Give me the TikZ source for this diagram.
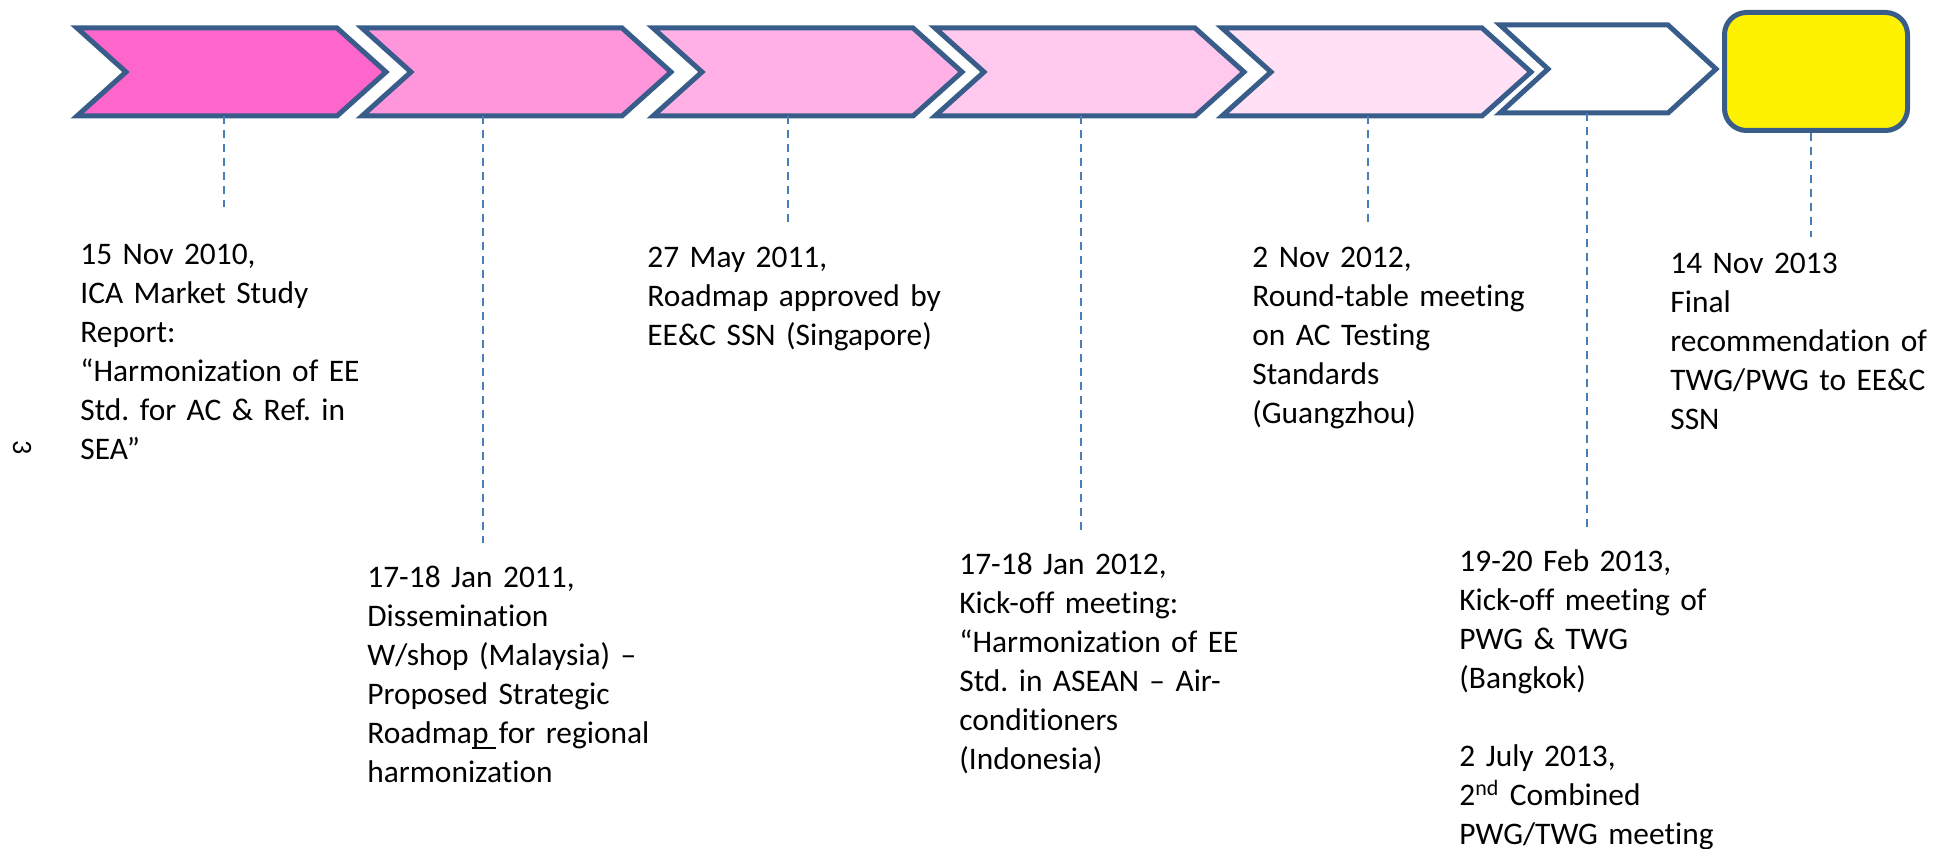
\documentclass[tikz,border=0pt]{standalone}
\usepackage{fontspec}
\setmainfont{Carlito}[Ligatures={TeX,NoCommon}]
\usepackage{tikz}
\usetikzlibrary{positioning}
\usepackage{xcolor}
\frenchspacing

\definecolor{edgeblue}{HTML}{385D8A}
\definecolor{tickblue}{HTML}{4A7EBB}
\definecolor{pinkA}{HTML}{FF66CC}
\definecolor{pinkB}{HTML}{FF95DB}
\definecolor{pinkC}{HTML}{FFB1E6}
\definecolor{pinkD}{HTML}{FFC9EE}
\definecolor{pinkE}{HTML}{FFE0F4}

\begin{document}
\begin{tikzpicture}[x=0.5pt, y=-0.5pt,
  chev/.style={draw=edgeblue, line width=2.5pt, line join=miter},
  goalbox/.style={draw=edgeblue, line width=2.5pt, fill=yellow, rounded corners=11pt,
    minimum width=91.5pt, minimum height=59pt, inner sep=0pt},
  tick/.style={draw=tickblue, line width=1.2pt, dash pattern=on 4pt off 3pt},
  event/.style={anchor=base west, inner sep=0pt, text width=170pt, align=left,
    font=\fontsize{15.7}{19.5}\selectfont}]
\useasboundingbox (0,0) rectangle (1934,849);

% chevrons
\foreach \l/\c in {77/pinkA, 362/pinkB, 653/pinkC, 935/pinkD, 1222/pinkE}
  \draw[chev, fill=\c] (\l,28) -- ++(260,0) -- ++(49,44) -- ++(-49,44) -- ++(-260,0) -- ++(49,-44) -- cycle;
\draw[chev, fill=white] (1500,25) -- (1668,25) -- (1716,69) -- (1668,113) -- (1500,113) -- (1548,69) -- cycle;
\node[goalbox] (goal) at (1816,71.5) {};

% page number
\node[rotate=-90, inner sep=0pt, font=\fontsize{14}{14}\selectfont] (pgno) at (22,448) {3};

% events
\node[event] (ev1) at (80,265) {15 Nov 2010,\\ICA Market Study\\Report:\\“Harmonization of EE\\Std. for AC \& Ref. in\\SEA”};
\node[event] (ev2) at (367,588) {17-18 Jan 2011,\\Dissemination\\W/shop (Malaysia) –\\Proposed Strategic\\Roadma\rlap{\rule[-2.5pt]{0.75em}{0.8pt}}p for regional\\harmonization};
\node[event] (ev3) at (647,268) {27 May 2011,\\Roadmap approved by\\EE\&C SSN (Singapore)};
\node[event] (ev4) at (959,575) {17-18 Jan 2012,\\Kick-off meeting:\\“Harmonization of EE\\Std. in ASEAN – Air-\\conditioners\\(Indonesia)};
\node[event] (ev5) at (1252,268) {2 Nov 2012,\\Round-table meeting\\on AC Testing\\Standards\\(Guangzhou)};
\node[event] (ev6) at (1459,572) {19-20 Feb 2013,\\Kick-off meeting of\\PWG \& TWG\\(Bangkok)\\[19.5pt]2 July 2013,\\2\textsuperscript{nd} Combined\\PWG/TWG meeting};
\node[event] (ev7) at (1670,274) {14 Nov 2013\\Final\\recommendation of\\TWG/PWG to EE\&C\\SSN};

% dashed ticks
\foreach \x/\a/\b [count=\i] in {224/116/207, 483/116/543, 788/116/222, 1081/116/533, 1368/116/223, 1587/113/530}{
  \coordinate (top\i) at (\x,\a);
  \coordinate (end\i) at (\x,\b);
  \draw[tick] (top\i) -- (end\i);
}
\coordinate (end7) at (1811,237);
\draw[tick] (goal.south -| end7) -- (end7);
\end{tikzpicture}
\end{document}
